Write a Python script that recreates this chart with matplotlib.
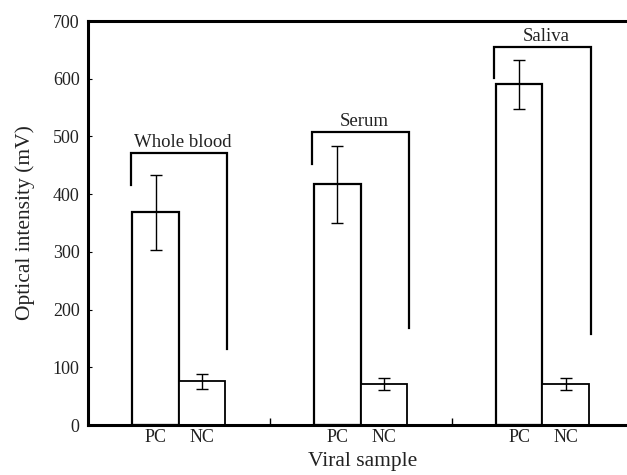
import numpy as np
import matplotlib.pyplot as plt

plt.rcParams['font.family'] = ['Liberation Serif', 'DejaVu Serif']

groups = ['Whole blood', 'Serum', 'Saliva']
pc_vals = [369, 418, 591]
pc_err_lo = [66, 68, 43]
pc_err_hi = [64, 66, 42]
nc_vals = [76, 71, 71]
nc_err = [13, 10, 11]
# bracket heights per group: top, left end, right end
bracket_top = [471, 508, 655]
bracket_left = [416, 452, 601]
bracket_right = [132, 168, 158]
yticks = [0, 100, 200, 300, 400, 500, 600, 700]

fig = plt.figure(figsize=(6.27, 4.75), dpi=100)
ax = fig.add_axes([88/627, 1 - 425/475, 1 - 88/627 + 0.01, 404/475])

x = np.arange(len(groups))
w = 0.256
ax.bar(x - w/2, pc_vals, w, color='white', edgecolor='black', linewidth=1.6)
ax.bar(x + w/2, nc_vals, w, color='white', edgecolor='black', linewidth=1.3)
ax.errorbar(x - w/2, pc_vals, yerr=[pc_err_lo, pc_err_hi], fmt='none',
            ecolor='black', elinewidth=1.0, capsize=4, capthick=1.0)
ax.errorbar(x + w/2, nc_vals, yerr=nc_err, fmt='none',
            ecolor='black', elinewidth=1.0, capsize=4, capthick=1.0)

for i, g in enumerate(groups):
    xl = x[i] - w - 0.01
    xr = x[i] + w + 0.01
    ax.plot([xl, xl, xr, xr], [bracket_left[i], bracket_top[i], bracket_top[i], bracket_right[i]],
            color='black', linewidth=1.6, solid_joinstyle='miter')
    ax.text(x[i] + 0.02, bracket_top[i] + 4, g, ha='center', va='bottom',
            fontsize=13.5, color='#222222')

ax.set_xlim(-0.5, 2.5)
ax.set_ylim(0, 700)
ax.set_yticks(yticks)
ax.set_xticks(np.concatenate([x - w/2, x + w/2]))
ax.set_xticklabels(['PC'] * 3 + ['NC'] * 3)
ax.set_xticks([0.5, 1.5], minor=True)
ax.tick_params(axis='x', which='major', length=0, labelsize=13, pad=3,
               labelcolor='#222222')
ax.tick_params(axis='x', which='minor', direction='in', length=5, width=1)
ax.tick_params(axis='y', direction='in', length=3, labelsize=13, pad=6,
               labelcolor='#222222')

for s in ['left', 'bottom', 'top']:
    ax.spines[s].set_linewidth(2.2)
ax.spines['right'].set_visible(False)

ax.set_ylabel('Optical intensity (mV)', fontsize=15.5, color='#222222')
ax.set_xlabel('Viral sample', fontsize=15.5, color='#222222')
ax.yaxis.set_label_coords(-0.097, 0.5)
ax.xaxis.set_label_coords(0.504, -0.067)

fig.savefig('out.png', dpi=100)
